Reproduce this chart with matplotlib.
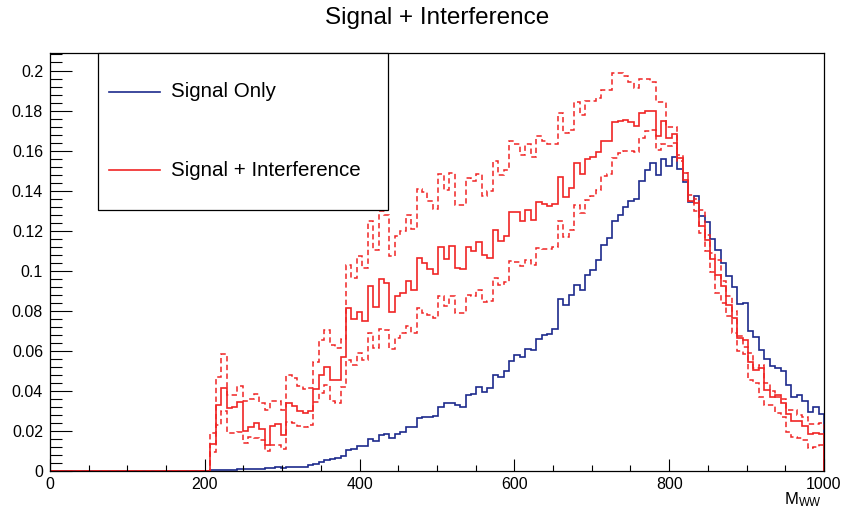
import matplotlib
matplotlib.use("Agg")
import matplotlib.pyplot as plt
import numpy as np
from matplotlib.patches import Rectangle
from matplotlib.ticker import MultipleLocator, FuncFormatter

plt.rcParams["font.family"] = ["Liberation Sans", "DejaVu Sans"]
plt.rcParams["mathtext.fontset"] = "custom"
plt.rcParams["mathtext.rm"] = "Liberation Sans"

# histogram range (GeV) of the filled bins, 113 bins up to 1000
first_edge = 207
last_edge = 1000

signal_only = [
    0.0003, 0.0005, 0.0005, 0.0006, 0.0007, 0.0008, 0.0008, 0.0010, 0.0010, 0.0012,
    0.0013, 0.0015, 0.0018, 0.0015, 0.0020, 0.0020, 0.0022, 0.0022, 0.0028, 0.0037,
    0.0047, 0.0055, 0.0058, 0.0063, 0.0075, 0.0105, 0.0110, 0.0125, 0.0125, 0.0158,
    0.0152, 0.0180, 0.0185, 0.0163, 0.0185, 0.0197, 0.0218, 0.0222, 0.0263, 0.0268,
    0.0270, 0.0275, 0.0322, 0.0342, 0.0342, 0.0330, 0.0322, 0.0380, 0.0385, 0.0417,
    0.0397, 0.0413, 0.0477, 0.0467, 0.0497, 0.0550, 0.0577, 0.0567, 0.0610, 0.0605,
    0.0660, 0.0677, 0.0683, 0.0710, 0.0858, 0.0830, 0.0880, 0.0927, 0.0905, 0.0980,
    0.1005, 0.1052, 0.1127, 0.1163, 0.1250, 0.1277, 0.1317, 0.1347, 0.1360, 0.1450,
    0.1505, 0.1538, 0.1477, 0.1558, 0.1525, 0.1567, 0.1510, 0.1443, 0.1343, 0.1372,
    0.1272, 0.1242, 0.1158, 0.1102, 0.1038, 0.0975, 0.0918, 0.0833, 0.0838, 0.0697,
    0.0667, 0.0605, 0.0560, 0.0525, 0.0513, 0.0497, 0.0428, 0.0372, 0.0380, 0.0352,
    0.0297, 0.0318, 0.0285,
]

sig_int = [
    0.0135, 0.0328, 0.0415, 0.0317, 0.0322, 0.0347, 0.0200, 0.0222, 0.0242, 0.0208,
    0.0130, 0.0225, 0.0235, 0.0180, 0.0342, 0.0327, 0.0300, 0.0290, 0.0300, 0.0410,
    0.0480, 0.0520, 0.0455, 0.0455, 0.0567, 0.0813, 0.0758, 0.0792, 0.0747, 0.0922,
    0.0817, 0.0958, 0.0938, 0.0793, 0.0875, 0.0888, 0.0950, 0.0903, 0.1062, 0.1038,
    0.1008, 0.0985, 0.1121, 0.1059, 0.1126, 0.1013, 0.1010, 0.1120, 0.1100, 0.1145,
    0.1080, 0.1065, 0.1202, 0.1150, 0.1176, 0.1293, 0.1293, 0.1247, 0.1303, 0.1251,
    0.1342, 0.1335, 0.1322, 0.1333, 0.1470, 0.1368, 0.1415, 0.1540, 0.1485, 0.1558,
    0.1567, 0.1592, 0.1650, 0.1650, 0.1742, 0.1750, 0.1753, 0.1742, 0.1722, 0.1788,
    0.1800, 0.1800, 0.1672, 0.1750, 0.1663, 0.1683, 0.1563, 0.1455, 0.1347, 0.1338,
    0.1222, 0.1155, 0.1058, 0.0980, 0.0922, 0.0830, 0.0763, 0.0663, 0.0655, 0.0542,
    0.0505, 0.0513, 0.0405, 0.0372, 0.0380, 0.0338, 0.0283, 0.0250, 0.0250, 0.0225,
    0.0183, 0.0188, 0.0185,
]

sig_int_up = [
    0.0188, 0.0468, 0.0583, 0.0380, 0.0380, 0.0425, 0.0350, 0.0358, 0.0385, 0.0338,
    0.0305, 0.0350, 0.0350, 0.0305, 0.0477, 0.0463, 0.0422, 0.0410, 0.0413, 0.0543,
    0.0652, 0.0705, 0.0630, 0.0613, 0.0660, 0.1030, 0.0963, 0.1075, 0.1013, 0.1247,
    0.1105, 0.1297, 0.1280, 0.1075, 0.1172, 0.1200, 0.1278, 0.1210, 0.1410, 0.1392,
    0.1347, 0.1310, 0.1485, 0.1405, 0.1488, 0.1330, 0.1330, 0.1463, 0.1447, 0.1485,
    0.1372, 0.1397, 0.1547, 0.1480, 0.1505, 0.1650, 0.1633, 0.1580, 0.1633, 0.1567,
    0.1672, 0.1650, 0.1633, 0.1633, 0.1788, 0.1688, 0.1705, 0.1845, 0.1780, 0.1847,
    0.1847, 0.1863, 0.1905, 0.1905, 0.1988, 0.1988, 0.1975, 0.1943, 0.1912, 0.1960,
    0.1958, 0.1942, 0.1845, 0.1845, 0.1717, 0.1717, 0.1580, 0.1488, 0.1380, 0.1360,
    0.1305, 0.1180, 0.1088, 0.1055, 0.0947, 0.0872, 0.0800, 0.0675, 0.0620, 0.0588,
    0.0513, 0.0530, 0.0438, 0.0400, 0.0372, 0.0360, 0.0305, 0.0305, 0.0280, 0.0270,
    0.0235, 0.0235, 0.0240,
]

sig_int_down = [
    0.0097, 0.0230, 0.0300, 0.0192, 0.0192, 0.0193, 0.0142, 0.0172, 0.0163, 0.0155,
    0.0100, 0.0130, 0.0130, 0.0110, 0.0247, 0.0238, 0.0225, 0.0222, 0.0230, 0.0347,
    0.0388, 0.0430, 0.0350, 0.0340, 0.0420, 0.0555, 0.0530, 0.0588, 0.0555, 0.0688,
    0.0613, 0.0709, 0.0705, 0.0610, 0.0663, 0.0688, 0.0722, 0.0690, 0.0813, 0.0788,
    0.0777, 0.0763, 0.0872, 0.0822, 0.0872, 0.0788, 0.0788, 0.0880, 0.0875, 0.0903,
    0.0845, 0.0848, 0.0962, 0.0928, 0.0945, 0.1047, 0.1045, 0.1022, 0.1053, 0.1028,
    0.1113, 0.1110, 0.1110, 0.1121, 0.1247, 0.1167, 0.1205, 0.1330, 0.1288, 0.1355,
    0.1372, 0.1405, 0.1472, 0.1483, 0.1563, 0.1588, 0.1600, 0.1597, 0.1593, 0.1663,
    0.1697, 0.1705, 0.1605, 0.1633, 0.1622, 0.1638, 0.1550, 0.1488, 0.1347, 0.1300,
    0.1188, 0.1100, 0.0993, 0.0888, 0.0838, 0.0772, 0.0688, 0.0597, 0.0585, 0.0455,
    0.0438, 0.0372, 0.0330, 0.0330, 0.0288, 0.0272, 0.0197, 0.0172, 0.0163, 0.0155,
    0.0113, 0.0122, 0.0130,
]

labels = ["Signal Only", "Signal + Interference"]

blue = "#1c2a8c"
red = "#f02525"

n_bins = len(signal_only)
edges = np.concatenate([[0], np.linspace(first_edge, last_edge, n_bins + 1)])

fig = plt.figure(figsize=(8.45, 5.11), dpi=100)
ax = fig.add_axes([50 / 845, 40 / 511, 774 / 845, 418 / 511])

ax.stairs([0] + signal_only, edges, color=blue, lw=1.2, baseline=0)
ax.stairs([0] + sig_int_up, edges, color=red, lw=1.1, ls=(0, (3.5, 2.2)), baseline=0)
ax.stairs([0] + sig_int_down, edges, color=red, lw=1.1, ls=(0, (3.5, 2.2)), baseline=0)
ax.stairs([0] + sig_int, edges, color=red, lw=1.2, baseline=0)

ax.set_xlim(0, 1000)
ax.set_ylim(0, 1.05 * max(sig_int_up))

ax.xaxis.set_major_locator(MultipleLocator(200))
ax.xaxis.set_minor_locator(MultipleLocator(50))
ax.yaxis.set_major_locator(MultipleLocator(0.02))
ax.yaxis.set_minor_locator(MultipleLocator(0.004))
ax.yaxis.set_major_formatter(FuncFormatter(lambda v, p: f"{round(v, 3):g}"))

ax.tick_params(axis="x", which="major", direction="in", length=9, width=0.8,
               labelsize=11.5, pad=4, top=False)
ax.tick_params(axis="x", which="minor", direction="in", length=4.5, width=0.8, top=False)
ax.tick_params(axis="y", which="major", direction="in", length=16, width=0.8,
               labelsize=11.5, pad=5, right=False)
ax.tick_params(axis="y", which="minor", direction="in", length=8.4, width=0.8, right=False)
for s in ax.spines.values():
    s.set_linewidth(0.9)

# legend box drawn like the ROOT TLegend
ax.add_patch(Rectangle((0.0616, 0.6244), 0.3751, 0.3756, transform=ax.transAxes,
                       fill=True, facecolor="white", edgecolor="black", lw=0.9,
                       zorder=5, clip_on=False))
for yy, col, lab in [(0.9067, blue, labels[0]), (0.720, red, labels[1])]:
    ax.plot([0.0762, 0.142], [yy, yy], color=col, lw=1.2, transform=ax.transAxes, zorder=6)
    ax.text(0.1563, yy, lab, transform=ax.transAxes, fontsize=14.8, va="center",
            ha="left", zorder=6)

fig.text(437 / 845, 1 - 18 / 511, "Signal + Interference", ha="center", va="center",
         fontsize=17.5)
fig.text(822 / 845, 1 - 490 / 511, r"$\mathregular{M_{WW}}$", ha="right", va="top",
         fontsize=12)

fig.savefig("out.png", dpi=100)
